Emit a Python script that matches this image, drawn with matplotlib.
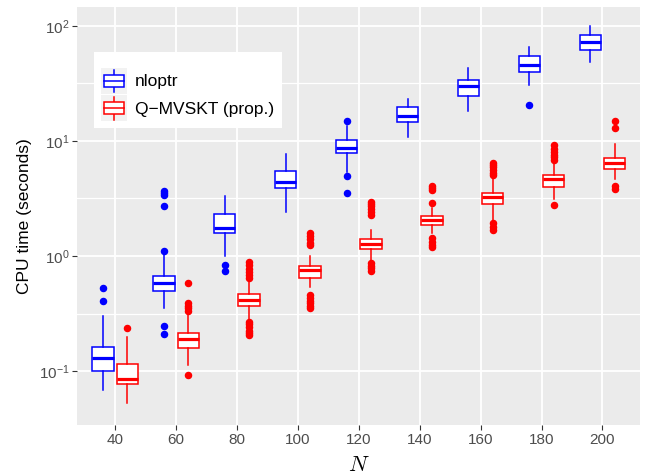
import matplotlib
matplotlib.use("Agg")
import matplotlib.pyplot as plt
from matplotlib.patches import Rectangle
from matplotlib.lines import Line2D
from matplotlib.legend_handler import HandlerBase

# data (CPU seconds, log scale)
N = [40, 60, 80, 100, 120, 140, 160, 180, 200]
xtick_labels = ["40", "60", "80", "100", "120", "140", "160", "180", "200"]
ytick_vals = [0.1, 1, 10, 100]
ytick_labels = [r"$10^{-1}$", r"$10^{0}$", r"$10^{1}$", r"$10^{2}$"]

# nloptr
nl_q1 = [0.101, 0.496, 1.57, 3.88, 7.82, 14.7, 24.8, 39.8, 61.8]
nl_med = [0.129, 0.586, 1.74, 4.43, 8.75, 16.5, 30.1, 45.8, 72.1]
nl_q3 = [0.161, 0.670, 2.30, 5.52, 10.2, 19.9, 33.7, 55.2, 83.5]
nl_lo = [0.069, 0.351, 1.00, 2.43, 5.41, 10.9, 18.3, 30.7, 48.9]
nl_hi = [0.300, 1.02, 3.32, 7.71, 13.5, 23.3, 42.9, 66.1, 100.0]
nl_out = [
    [0.41, 0.53],
    [0.21, 0.248, 1.11, 2.72, 3.39, 3.55, 3.65],
    [0.745, 0.835],
    [],
    [3.51, 4.96, 14.9],
    [],
    [],
    [20.6],
    [],
]

# Q-MVSKT (prop.)
qm_q1 = [0.0771, 0.158, 0.370, 0.640, 1.157, 1.86, 2.83, 4.01, 5.71]
qm_med = [0.0847, 0.189, 0.414, 0.756, 1.28, 2.06, 3.24, 4.67, 6.48]
qm_q3 = [0.114, 0.213, 0.465, 0.818, 1.41, 2.23, 3.55, 5.09, 7.07]
qm_lo = [0.0524, 0.112, 0.274, 0.535, 0.892, 1.57, 2.06, 3.11, 4.64]
qm_hi = [0.199, 0.318, 0.598, 1.00, 1.68, 2.60, 4.67, 6.61, 9.36]
qm_out = [
    [0.237],
    [0.0923, 0.33, 0.35, 0.37, 0.393, 0.586],
    [0.206, 0.215, 0.225, 0.24, 0.255, 0.268, 0.64, 0.68, 0.72, 0.77, 0.83, 0.892],
    [0.351, 0.37, 0.39, 0.41, 0.435, 0.458, 1.25, 1.3, 1.4, 1.5, 1.57],
    [0.745, 0.78, 0.82, 0.864, 2.27, 2.4, 2.55, 2.7, 2.85, 2.97],
    [1.19, 1.25, 1.32, 1.43, 2.87, 3.75, 3.9, 4.09],
    [1.68, 1.8, 1.95, 5.06, 5.3, 5.6, 5.9, 6.2, 6.48],
    [2.78, 6.83, 7.2, 7.6, 8.0, 8.5, 9.23],
    [3.85, 4.06, 12.9, 14.9],
]

BLUE = "#0000FF"
RED = "#FF0000"

plt.rcParams["font.family"] = ["Liberation Sans", "DejaVu Sans"]
plt.rcParams["mathtext.fontset"] = "custom"
plt.rcParams["mathtext.rm"] = "Liberation Sans"
plt.rcParams["mathtext.it"] = "Liberation Sans:italic"


def makeStats(q1, med, q3, lo, hi, out):
    stats = []
    for i in range(len(med)):
        stats.append(dict(q1=q1[i], med=med[i], q3=q3[i],
                          whislo=lo[i], whishi=hi[i], fliers=out[i]))
    return stats


def drawBoxes(ax, stats, pos, color):
    ax.bxp(stats, positions=pos, widths=7, patch_artist=True,
           showcaps=False, manage_ticks=False,
           boxprops=dict(facecolor="white", edgecolor=color, linewidth=1.1),
           whiskerprops=dict(color=color, linewidth=1.1),
           medianprops=dict(color=color, linewidth=2.3, solid_capstyle="butt"),
           flierprops=dict(marker="o", markerfacecolor=color, markeredgecolor=color,
                           markersize=4.4, linestyle="none"),
           zorder=3)


class BoxKey:
    def __init__(self, color):
        self.color = color


class BoxKeyHandler(HandlerBase):
    def create_artists(self, legend, orig_handle, xdescent, ydescent,
                       width, height, fontsize, trans):
        c = orig_handle.color
        x0, y0 = -xdescent, -ydescent
        bg = Rectangle((x0, y0), width, height, facecolor="#F2F2F2",
                       edgecolor="none", transform=trans)
        bx = Rectangle((x0 + 0.1 * width, y0 + 0.27 * height), 0.8 * width, 0.46 * height,
                       facecolor="white", edgecolor=c, linewidth=1.1, transform=trans)
        xm = x0 + width / 2
        w1 = Line2D([xm, xm], [y0 + 0.06 * height, y0 + 0.27 * height], color=c, lw=1.1, transform=trans)
        w2 = Line2D([xm, xm], [y0 + 0.73 * height, y0 + 0.94 * height], color=c, lw=1.1, transform=trans)
        md = Line2D([x0 + 0.1 * width, x0 + 0.9 * width], [y0 + height / 2] * 2,
                    color=c, lw=1.1, transform=trans)
        return [bg, w1, w2, bx, md]


fig = plt.figure(figsize=(6.5, 4.76), dpi=100)
ax = fig.add_axes([0.119, 0.107, 0.866, 0.879])
ax.set_facecolor("#EBEBEB")
for s in ax.spines.values():
    s.set_visible(False)

ax.set_yscale("log")
ax.set_xlim(27.6, 212.4)
ax.set_ylim(10 ** -1.47, 10 ** 2.168)

# grid (ggplot style)
ax.set_axisbelow(True)
for v in ytick_vals:
    ax.axhline(v, color="white", lw=1.3, zorder=0)
for v in [10 ** -0.5, 10 ** 0.5, 10 ** 1.5]:
    ax.axhline(v, color="white", lw=0.9, zorder=0)
for v in N:
    ax.axvline(v, color="white", lw=1.3, zorder=0)

drawBoxes(ax, makeStats(nl_q1, nl_med, nl_q3, nl_lo, nl_hi, nl_out), [n - 4 for n in N], BLUE)
drawBoxes(ax, makeStats(qm_q1, qm_med, qm_q3, qm_lo, qm_hi, qm_out), [n + 4 for n in N], RED)

ax.set_xticks(N)
ax.set_xticklabels(xtick_labels)
ax.set_yticks(ytick_vals)
ax.set_yticklabels(ytick_labels)
ax.yaxis.set_minor_locator(matplotlib.ticker.NullLocator())
ax.tick_params(axis="both", which="major", length=3.5, width=0.8, color="#333333",
               labelcolor="#4D4D4D", labelsize=11, pad=2)

ax.set_ylabel("CPU time (seconds)", fontsize=12.5, color="black", labelpad=5)
ax.set_xlabel(r"$N$", fontsize=16, math_fontfamily="cm", labelpad=6)

leg = ax.legend([BoxKey(BLUE), BoxKey(RED)], ["nloptr", "Q\u2212MVSKT (prop.)"],
                handler_map={BoxKey: BoxKeyHandler()},
                loc="upper left", bbox_to_anchor=(0.0297, 0.8917), borderaxespad=0,
                fontsize=12.5, frameon=True, fancybox=False, framealpha=1,
                edgecolor="white", facecolor="white",
                handlelength=1.45, handleheight=1.9, handletextpad=0.5,
                labelspacing=0.1, borderpad=0.42, title=" ", title_fontsize=5)
leg.get_frame().set_linewidth(0)

fig.savefig("out.png", dpi=100)
